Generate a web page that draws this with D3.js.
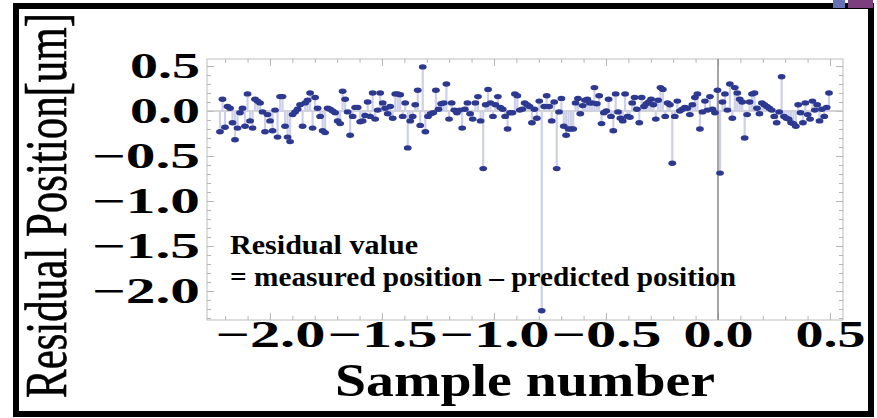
<!DOCTYPE html>
<html>
<head>
<meta charset="utf-8">
<script src="https://cdn.jsdelivr.net/npm/d3@7"></script>
<style>
  html, body { margin: 0; padding: 0; background: #fff; }
  svg { display: block; }
</style>
</head>
<body>
<svg id="chart" width="877" height="418"></svg>
<script>
// ---- data ----
const residuals = [
  -0.23, 0.13, -0.18, 0.05, 0.03, -0.13, -0.32, -0.19, -0.02, 0.03,
  -0.17, 0.19, -0.11, -0.19, 0.13, 0.11, 0.09, -0.01, -0.23, -0.04,
  -0.11, -0.22, 0.01, -0.29, 0.16, 0.16, -0.17, -0.29, -0.34, -0.04,
  -0.01, 0.02, 0.07, -0.17, 0.09, 0.12, 0.20, -0.19, 0.15, 0.03,
  -0.06, -0.22, -0.24, 0.03, 0.02, 0.00, -0.02, -0.11, -0.14, 0.22,
  0.13, -0.01, -0.27, -0.06, 0.04, 0.04, -0.12, -0.11, -0.05, 0.10,
  -0.06, 0.20, -0.09, 0.01, 0.20, 0.09, 0.03, -0.03, 0.05, -0.08,
  0.19, 0.19, 0.18, -0.06, 0.09, -0.41, -0.11, -0.06, 0.07, 0.23,
  -0.16, 0.49, -0.23, -0.06, -0.03, -0.02, 0.23, 0.02, 0.08, 0.09,
  0.30, -0.09, 0.09, 0.01, -0.02, 0.01, -0.19, 0.02, 0.09, -0.03,
  -0.09, 0.09, 0.16, -0.11, -0.64, 0.07, 0.24, 0.09, -0.06, 0.07,
  0.16, 0.04, 0.02, -0.06, -0.20, -0.02, -0.02, 0.19, 0.17, 0.01,
  0.02, 0.09, 0.07, 0.05, -0.13, 0.02, -0.08, 0.11, -2.22, 0.05,
  0.17, 0.05, -0.11, 0.10, -0.64, -0.01, 0.14, -0.17, -0.27, -0.20,
  -0.20, -0.20, 0.09, 0.14, -0.03, 0.06, 0.12, 0.13, 0.09, 0.09,
  0.26, 0.08, 0.17, -0.14, -0.02, 0.00, 0.13, -0.06, -0.22, 0.19,
  -0.01, -0.08, -0.11, 0.19, -0.06, -0.07, 0.09, 0.15, 0.02, -0.13,
  0.15, 0.05, 0.08, 0.10, 0.13, 0.07, -0.09, 0.12, 0.26, 0.24,
  -0.06, 0.09, 0.07, -0.58, -0.06, 0.11, 0.00, 0.02, 0.04, 0.03,
  -0.04, 0.07, 0.15, 0.19, -0.20, -0.01, 0.11, 0.01, 0.16, 0.02,
  -0.02, 0.23, -0.69, 0.10, 0.19, 0.01, 0.30, -0.08, 0.26, 0.20,
  0.13, 0.10, -0.30, -0.04, 0.10, 0.19, 0.20, 0.03, -0.03, 0.09,
  0.07, 0.05, 0.03, 0.01, -0.06, -0.13, -0.01, 0.38, -0.06, -0.08,
  -0.09, -0.13, -0.14, -0.17, 0.07, -0.02, -0.13, 0.09, -0.04, -0.09,
  0.11, 0.01, 0.07, -0.11, 0.02, -0.06, 0.04, 0.20
];
// sample index -> x position, anchored at points
const anchorIndex = [0, 81, 104, 128, 134, 183, 202, 227, 247];
const anchorX = [-2.223, -1.318, -1.048, -0.787, -0.720, -0.204, 0.009, 0.284, 0.4955];
const xDomain = [-2.281, 0.558];
const yDomain = [-2.322, 0.578];
const xTicks = [-2.0, -1.5, -1.0, -0.5, 0.0, 0.5];
const yTicks = [0.5, 0.0, -0.5, -1.0, -1.5, -2.0];
const yTitle = "Residual Position[um]";
const xTitle = "Sample number";
const noteLines = ["Residual value", "= measured position \u2013 predicted position"];

// ---- layout ----
const svg = d3.select("#chart");
const frame = { left: 207, right: 843, top: 59, bottom: 320 };
const serif = "'Liberation Serif', 'Times New Roman', serif";

const x = d3.scaleLinear().domain(xDomain).range([frame.left, frame.right]);
const y = d3.scaleLinear().domain(yDomain).range([frame.bottom, frame.top]);
const idx = d3.scaleLinear().domain(anchorIndex).range(anchorX);

// outer black border
svg.append("rect").attr("x", 16).attr("y", 6).attr("width", 855).attr("height", 408)
  .attr("fill", "#fff").attr("stroke", "#000").attr("stroke-width", 6);

// top-right coloured slivers (cropped neighbour graphics)
svg.append("rect").attr("x", 833).attr("y", 0).attr("width", 12).attr("height", 8).attr("fill", "#6571b3");
svg.append("rect").attr("x", 848).attr("y", 0).attr("width", 25).attr("height", 8).attr("fill", "#7b3f7e");

// frame
svg.append("rect").attr("x", frame.left).attr("y", frame.top)
  .attr("width", frame.right - frame.left).attr("height", frame.bottom - frame.top)
  .attr("fill", "none").attr("stroke", "#bdbdbd").attr("stroke-width", 1);

const yMinor = d3.range(-23, 6).map(d => d / 10);
const xMinor = d3.range(-22, 6).map(d => d / 10);

function frameTicks(axisGen, tr, vals, size) {
  const g = svg.append("g").attr("transform", tr)
    .call(axisGen.tickValues(vals).tickSize(size).tickFormat(""));
  g.select(".domain").remove();
  g.selectAll(".tick line").attr("stroke", "#b5b5b5").attr("stroke-width", 1);
  return g;
}
// inward ticks on all four sides
frameTicks(d3.axisLeft(y), `translate(${frame.left},0)`, yMinor, -4);
frameTicks(d3.axisLeft(y), `translate(${frame.left},0)`, yTicks, -7);
frameTicks(d3.axisRight(y), `translate(${frame.right},0)`, yMinor, -4);
frameTicks(d3.axisRight(y), `translate(${frame.right},0)`, yTicks, -7);
frameTicks(d3.axisBottom(x), `translate(0,${frame.bottom})`, xMinor, -4);
frameTicks(d3.axisBottom(x), `translate(0,${frame.bottom})`, xTicks, -7);
frameTicks(d3.axisTop(x), `translate(0,${frame.top})`, xMinor, -4);
frameTicks(d3.axisTop(x), `translate(0,${frame.top})`, xTicks, -7);

// axes through origin
svg.append("line").attr("x1", frame.left).attr("x2", frame.right)
  .attr("y1", y(0)).attr("y2", y(0)).attr("stroke", "#c4c4c4").attr("stroke-width", 1.5);

// stems
svg.append("g").selectAll("line").data(residuals).join("line")
  .attr("x1", (d, i) => x(idx(i))).attr("x2", (d, i) => x(idx(i)))
  .attr("y1", y(0)).attr("y2", d => y(d))
  .attr("stroke", "#cdd0e8").attr("stroke-width", 2.2);

svg.append("line").attr("x1", x(0)).attr("x2", x(0))
  .attr("y1", frame.top).attr("y2", frame.bottom).attr("stroke", "#8f8f8f").attr("stroke-width", 1.6);

// points
svg.append("g").selectAll("ellipse").data(residuals).join("ellipse")
  .attr("cx", (d, i) => x(idx(i))).attr("cy", d => y(d))
  .attr("rx", 3.9).attr("ry", 2.7).attr("fill", "#2d3991");

// tick labels
const fmt = d3.format(".1f");
const yAx = svg.append("g").attr("transform", `translate(${frame.left},0)`)
  .call(d3.axisLeft(y).tickValues(yTicks).tickSize(0).tickPadding(7).tickFormat(fmt));
yAx.select(".domain").remove();
yAx.selectAll("text")
  .attr("font-family", serif).attr("font-weight", "bold").attr("font-size", 36)
  .attr("fill", "#000")
  .attr("textLength", d => d < 0 ? 108 : 70).attr("lengthAdjust", "spacingAndGlyphs");

const xAx = svg.append("g").attr("transform", `translate(0,${frame.bottom})`)
  .call(d3.axisBottom(x).tickValues(xTicks).tickSize(0).tickPadding(1).tickFormat(fmt));
xAx.select(".domain").remove();
xAx.selectAll("text")
  .attr("font-family", serif).attr("font-weight", "bold").attr("font-size", 37)
  .attr("fill", "#000")
  .attr("textLength", d => d < 0 ? 110 : 70).attr("lengthAdjust", "spacingAndGlyphs");

// axis titles (y title widened across its reading direction, like the stretched source)
svg.append("text").attr("transform", "translate(66,205.5) rotate(-90) scale(1,1.395)")
  .attr("text-anchor", "middle").attr("font-family", serif).attr("font-size", 43)
  .attr("fill", "#000").attr("stroke", "#000").attr("stroke-width", 0.45)
  .attr("textLength", 385).attr("lengthAdjust", "spacingAndGlyphs").text(yTitle);

svg.append("text").attr("x", 525).attr("y", 396)
  .attr("text-anchor", "middle").attr("font-family", serif).attr("font-size", 46)
  .attr("font-weight", "bold")
  .attr("textLength", 380).attr("lengthAdjust", "spacingAndGlyphs").text(xTitle);

// annotation
svg.append("text").attr("x", 230).attr("y", 254)
  .attr("font-family", serif).attr("font-size", 28).attr("font-weight", "bold")
  .attr("textLength", 188).attr("lengthAdjust", "spacingAndGlyphs").text(noteLines[0]);
svg.append("text").attr("x", 230).attr("y", 286)
  .attr("font-family", serif).attr("font-size", 28).attr("font-weight", "bold")
  .attr("textLength", 506).attr("lengthAdjust", "spacingAndGlyphs").text(noteLines[1]);
</script>
</body>
</html>
